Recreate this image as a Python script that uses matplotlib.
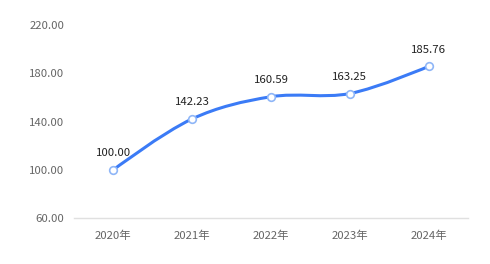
import numpy as np
import matplotlib
matplotlib.use('Agg')
import matplotlib.pyplot as plt
from matplotlib.path import Path
from matplotlib.patches import PathPatch

plt.rcParams['font.family'] = ['Noto Sans CJK SC', 'DejaVu Sans']

years = ['2020年', '2021年', '2022年', '2023年', '2024年']
values = [100.00, 142.23, 160.59, 163.25, 185.76]
yticks = [60, 100, 140, 180, 220]

line_col = '#3b7bf6'
smooth = 0.35

fig = plt.figure(figsize=(4.9, 2.64), dpi=100)
ax = fig.add_axes([0.151, 0.174, 0.804, 0.731])
ax.set_xlim(-0.5, 4.5)
ax.set_ylim(60, 220)

x = np.arange(len(values))
# smoothed curve: bezier control points worked out in pixel space
pts = ax.transData.transform(np.column_stack([x, values]))
n = len(pts)
verts = [pts[0]]
codes = [Path.MOVETO]
cps_out, cps_in = [], []
for i in range(n):
    if i == 0 or i == n - 1:
        cps_out.append(pts[i]); cps_in.append(pts[i])
        continue
    v = pts[i + 1] - pts[i - 1]
    d0 = np.hypot(*(pts[i] - pts[i - 1]))
    d1 = np.hypot(*(pts[i + 1] - pts[i]))
    cps_in.append(pts[i] - v * smooth * d0 / (d0 + d1))
    cps_out.append(pts[i] + v * smooth * d1 / (d0 + d1))
for i in range(n - 1):
    verts += [cps_out[i], cps_in[i + 1], pts[i + 1]]
    codes += [Path.CURVE4] * 3
verts = ax.transData.inverted().transform(np.array(verts))
ax.add_patch(PathPatch(Path(verts, codes), fill=False, edgecolor=line_col,
                       lw=2.2, capstyle='round', zorder=2))

ax.plot(x, values, ls='none', marker='o', ms=5.5, mfc='white', mec='#8fb6f7',
        mew=1.2, zorder=3)
for xi, v in zip(x, values):
    ax.annotate('%.2f' % v, (xi, v), xytext=(0, 12), textcoords='offset points',
                ha='center', va='center', fontsize=8.2, color='#222222')

ax.set_xticks(x)
ax.set_xticklabels(years)
ax.set_yticks(yticks)
ax.set_yticklabels(['%.2f' % t for t in yticks])
ax.tick_params(length=0, labelsize=8.2, labelcolor='#666666')
ax.tick_params(axis='x', pad=9)
ax.tick_params(axis='y', pad=7)
for s in ['top', 'right', 'left']:
    ax.spines[s].set_visible(False)
ax.spines['bottom'].set_color('#e0e0e0')
ax.spines['bottom'].set_linewidth(1)

fig.savefig('out.png', dpi=100)
